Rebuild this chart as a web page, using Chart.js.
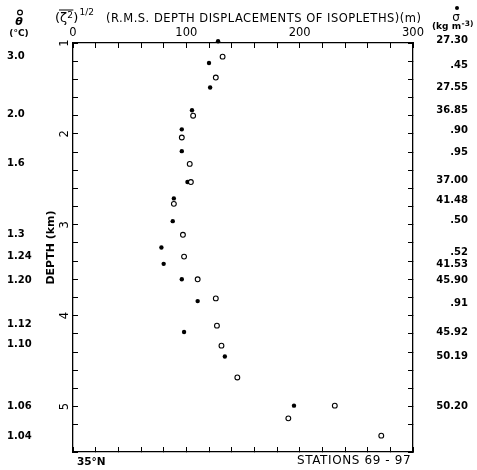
<!DOCTYPE html>
<html>
<head>
<meta charset="utf-8">
<script src="https://cdn.jsdelivr.net/npm/chart.js@4.4.0/dist/chart.umd.min.js"></script>
<style>
  html, body { margin: 0; padding: 0; background: #fff; }
  #wrap { width: 477px; height: 470px; }
</style>
</head>
<body>
<div id="wrap"><canvas id="chart"></canvas></div>
<script>
// open circles: displacement of temperature isopleths (theta)
const thetaDisp = [132, 126, 106, 96, 103, 104, 89, 97, 98, 110, 126, 127, 131, 145, 231, 190, 272];
const thetaDepth = [1.15, 1.38, 1.80, 2.04, 2.33, 2.53, 2.77, 3.11, 3.35, 3.60, 3.81, 4.11, 4.33, 4.68, 4.99, 5.13, 5.32];

// filled dots: displacement of density isopleths (sigma)
const sigmaDisp = [128, 120, 121, 105, 96, 96, 101, 89, 88, 78, 80, 96, 110, 98, 134, 195];
const sigmaDepth = [0.98, 1.22, 1.49, 1.74, 1.95, 2.19, 2.53, 2.71, 2.96, 3.25, 3.43, 3.60, 3.84, 4.18, 4.45, 4.99];

// isopleth labels down the sides
const thetaLabels = ['3.0', '2.0', '1.6', '1.3', '1.24', '1.20', '1.12', '1.10', '1.06', '1.04'];
const thetaLabelDepth = [1.15, 1.79, 2.33, 3.11, 3.35, 3.61, 4.10, 4.32, 5.0, 5.33];
const sigmaLabels = ['27.30', '.45', '27.55', '36.85', '.90', '.95', '37.00', '41.48', '.50', '.52', '41.53', '45.90', '.91', '45.92', '50.19', '50.20'];
const sigmaLabelDepth = [0.97, 1.245, 1.49, 1.74, 1.96, 2.20, 2.51, 2.73, 2.95, 3.30, 3.44, 3.61, 3.86, 4.18, 4.45, 5.0];

const dispTicks = [0, 100, 200, 300];
const depthTicks = [1, 2, 3, 4, 5];

const FONT = 'DejaVu Sans';

function toPoints(xs, ys) {
    return xs.map((x, i) => ({ x: x, y: ys[i] }));
}

const isMajor = (v, list) => list.some(t => Math.abs(t - v) < 1e-6);

const tickGrid = {
    drawOnChartArea: false,
    tickLength: -5,
    color: '#000',
    lineWidth: 1
};

// headers, title and footer text
const annotations = {
    id: 'annotations',
    afterDraw(chart) {
        const ctx = chart.ctx;
        ctx.save();
        ctx.fillStyle = '#000';
        ctx.strokeStyle = '#000';
        ctx.textBaseline = 'middle';

        // theta header
        ctx.lineWidth = 1.2;
        ctx.beginPath();
        ctx.arc(20, 12.5, 2.4, 0, Math.PI * 2);
        ctx.stroke();
        ctx.textAlign = 'center';
        ctx.font = 'italic bold 11px ' + FONT;
        ctx.fillText('θ', 19, 22);
        ctx.font = 'bold 9px ' + FONT;
        ctx.fillText('(°C)', 19, 33.5);

        // sigma header
        ctx.beginPath();
        ctx.arc(457, 8, 2, 0, Math.PI * 2);
        ctx.fill();
        ctx.font = '12px ' + FONT;
        ctx.fillText('σ', 456, 17.5);
        ctx.textAlign = 'left';
        ctx.font = 'bold 9px ' + FONT;
        ctx.fillText('(kg m', 432, 27);
        const w = ctx.measureText('(kg m').width;
        ctx.font = 'bold 7.5px ' + FONT;
        ctx.fillText('-3)', 432 + w + 0.5, 24);

        // title
        ctx.font = '13px ' + FONT;
        ctx.fillText('(ζ', 55, 19);
        const wz = ctx.measureText('(ζ').width;
        ctx.font = '9px ' + FONT;
        ctx.fillText('2', 55 + wz, 15.5);
        const w2 = ctx.measureText('2').width;
        ctx.font = '13px ' + FONT;
        ctx.fillText(')', 55 + wz + w2 + 0.5, 19);
        const wp = ctx.measureText(')').width;
        ctx.lineWidth = 1;
        ctx.beginPath();
        ctx.moveTo(59, 10);
        ctx.lineTo(55 + wz + w2 + 0.5, 10);
        ctx.stroke();
        ctx.font = '9px ' + FONT;
        ctx.fillText('1/2', 55 + wz + w2 + wp + 1.5, 12.5);
        ctx.font = '11.5px ' + FONT;
        ctx.letterSpacing = '0.5px';
        ctx.fillText('(R.M.S. DEPTH DISPLACEMENTS OF ISOPLETHS)(m)', 106, 19);

        // footer
        ctx.letterSpacing = '0px';
        ctx.font = 'bold 10.5px ' + FONT;
        ctx.fillText('35°N', 77, 462);
        ctx.font = '12px ' + FONT;
        ctx.letterSpacing = '0.6px';
        ctx.fillText('STATIONS 69 - 97', 297, 461);
        ctx.restore();
    }
};

const config = {
    type: 'scatter',
    data: {
        datasets: [
            {
                label: 'theta',
                data: toPoints(thetaDisp, thetaDepth),
                xAxisID: 'x',
                yAxisID: 'y',
                pointStyle: 'circle',
                pointRadius: 2.4,
                pointBorderWidth: 1.1,
                pointBackgroundColor: '#fff',
                pointBorderColor: '#000',
                clip: false
            },
            {
                label: 'sigma',
                data: toPoints(sigmaDisp, sigmaDepth),
                xAxisID: 'x',
                yAxisID: 'y',
                pointStyle: 'circle',
                pointRadius: 2.2,
                pointBorderWidth: 0,
                pointBackgroundColor: '#000',
                pointBorderColor: '#000',
                clip: false
            }
        ]
    },
    options: {
        responsive: true,
        maintainAspectRatio: false,
        animation: false,
        layout: { padding: { left: 7, right: 9, top: 0, bottom: 0 } },
        plugins: {
            legend: { display: false },
            tooltip: { enabled: false }
        },
        scales: {
            x: {
                type: 'linear',
                position: 'top',
                weight: 0,
                min: 0,
                max: 300,
                ticks: {
                    stepSize: 20,
                    autoSkip: false,
                    maxRotation: 0,
                    padding: 8,
                    color: '#000',
                    font: { family: FONT, size: 11.5 },
                    callback: v => isMajor(v, dispTicks) ? String(v) : ''
                },
                grid: tickGrid,
                border: { color: '#000', width: 1.3 },
                afterFit: s => { s.height = 43; }
            },
            xB: {
                type: 'linear',
                position: 'bottom',
                weight: 0,
                min: 0,
                max: 300,
                ticks: { stepSize: 20, display: false },
                grid: tickGrid,
                border: { color: '#000', width: 1.3 },
                afterFit: s => { s.height = 18; }
            },
            y: {
                type: 'linear',
                position: 'left',
                weight: 0,
                reverse: true,
                min: 1,
                max: 5.5,
                ticks: {
                    stepSize: 0.2,
                    autoSkip: false,
                    minRotation: 90,
                    maxRotation: 90,
                    crossAlign: 'center',
                    padding: 9,
                    color: '#000',
                    font: { family: FONT, size: 11.5 },
                    callback: v => isMajor(v, depthTicks) ? String(Math.round(v)) : ''
                },
                title: {
                    display: true,
                    text: 'DEPTH (km)',
                    color: '#000',
                    padding: { top: 0, bottom: 0 },
                    font: { family: FONT, size: 11, weight: 'bold' }
                },
                grid: tickGrid,
                border: { color: '#000', width: 1.3 },
                afterFit: s => { s.width = 28; }
            },
            yT: {
                type: 'linear',
                position: 'left',
                weight: 1,
                reverse: true,
                min: 1,
                max: 5.5,
                afterBuildTicks: s => { s.ticks = thetaLabelDepth.map(v => ({ value: v })); },
                ticks: {
                    autoSkip: false,
                    crossAlign: 'far',
                    color: '#000',
                    font: { family: FONT, size: 10, weight: 'bold' },
                    callback: (v, i) => thetaLabels[i]
                },
                grid: { display: false },
                border: { display: false },
                afterFit: s => { s.width = 38; }
            },
            yR: {
                type: 'linear',
                position: 'right',
                weight: 0,
                reverse: true,
                min: 1,
                max: 5.5,
                ticks: { stepSize: 0.2, display: false },
                grid: tickGrid,
                border: { color: '#000', width: 1.3 },
                afterFit: s => { s.width = 0; }
            },
            yS: {
                type: 'linear',
                position: 'right',
                weight: 1,
                reverse: true,
                min: 1,
                max: 5.5,
                afterBuildTicks: s => { s.ticks = sigmaLabelDepth.map(v => ({ value: v })); },
                ticks: {
                    autoSkip: false,
                    crossAlign: 'far',
                    color: '#000',
                    font: { family: FONT, size: 10, weight: 'bold' },
                    callback: (v, i) => sigmaLabels[i]
                },
                grid: { display: false },
                border: { display: false },
                afterFit: s => { s.width = 55; }
            }
        }
    },
    plugins: [annotations]
};

window.myChart = new Chart(document.getElementById('chart').getContext('2d'), config);
</script>
</body>
</html>
